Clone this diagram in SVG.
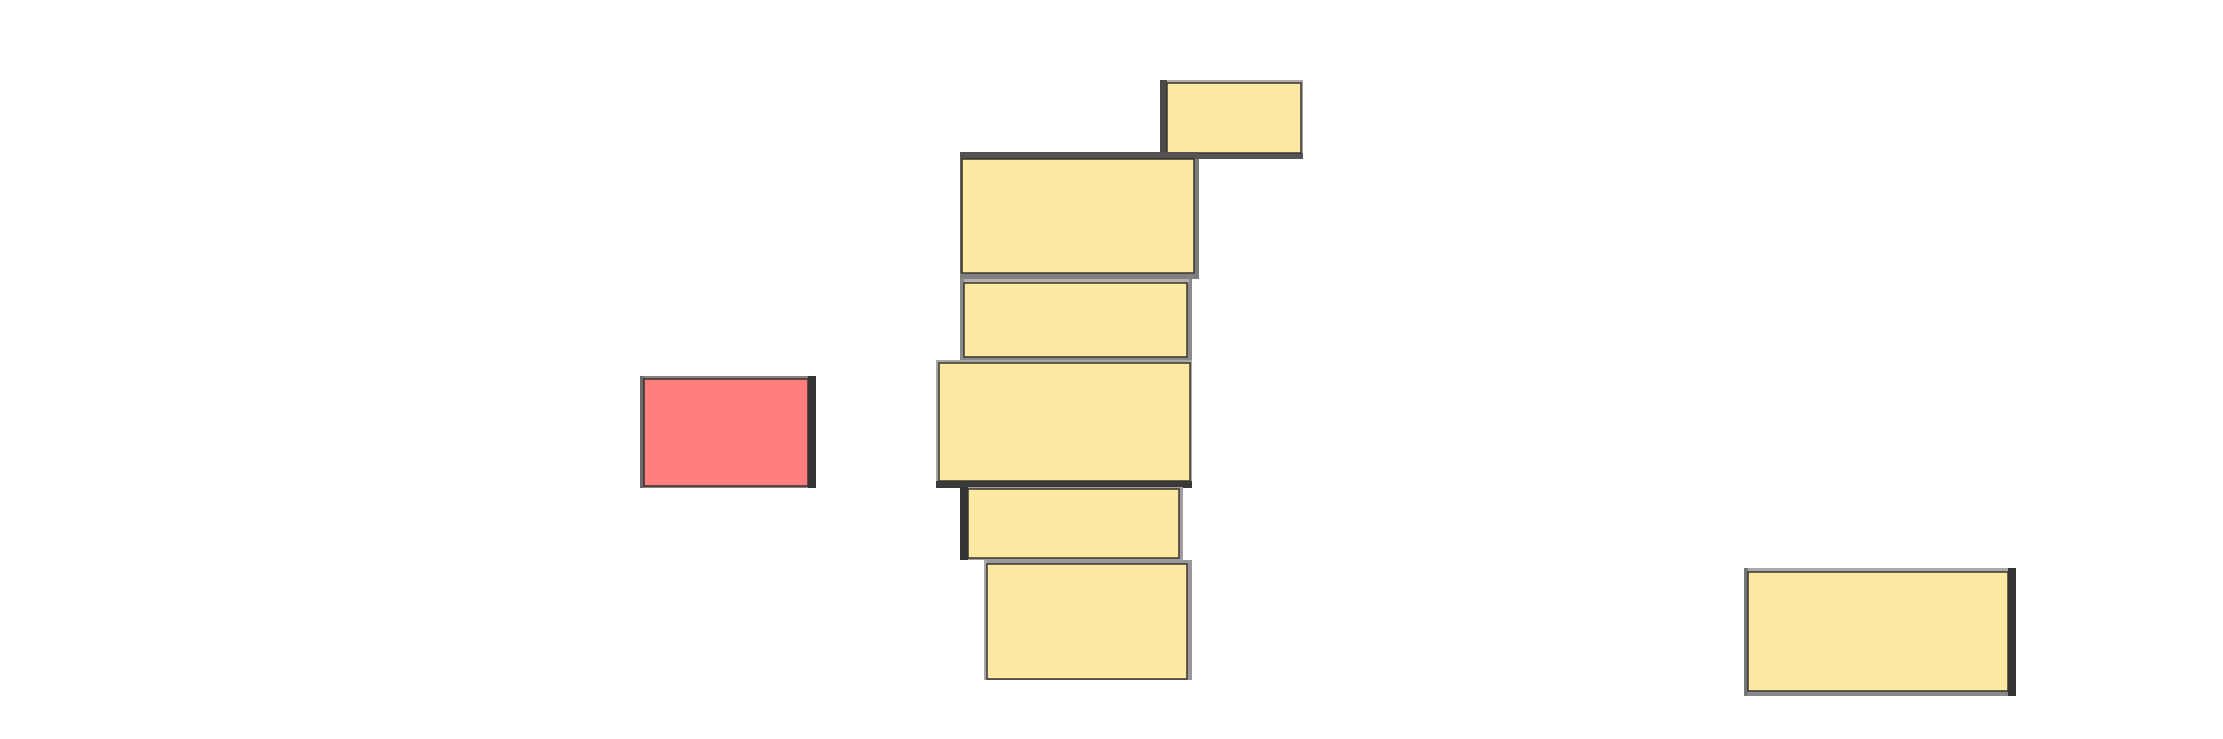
<svg xmlns="http://www.w3.org/2000/svg" width="2223" height="739" viewBox="0 0 2223 739">
<style>
.fill{fill:#fee9a2;stroke:#3a3530;stroke-width:1.5}
.red{fill:#ff7f7f;stroke:#3a3030;stroke-width:1.5}
</style>
<rect width="2223" height="739" fill="#ffffff"/>
<g id="connectors"></g>
<g id="node1">
<rect x="1160" y="80" width="143" height="3" fill="#b4aeac"/>
<rect x="1301" y="80" width="2" height="79" fill="#a8a4a8"/>
<rect x="1160" y="153" width="143" height="6" fill="#555"/>
<rect x="1160" y="80" width="7" height="79" fill="#4a4848"/>
<rect class="fill" x="1167" y="83" width="134" height="70"/>
</g>
<g id="node2">
<rect x="960" y="152" width="2" height="127" fill="#666"/>
<rect x="960" y="273" width="239" height="6" fill="#808080"/>
<rect x="1194" y="152" width="5" height="127" fill="#7c7c7c"/>
<rect x="960" y="152" width="239" height="7" fill="#555252"/>
<rect class="fill" x="962" y="159" width="232" height="114"/>
</g>
<g id="node3">
<rect x="960" y="279" width="232" height="82" fill="#8a8a8a"/>
<rect x="964" y="279" width="225" height="4" fill="#b5b0ae"/>
<rect class="fill" x="964" y="283" width="223" height="74"/>
</g>
<g id="node4">
<rect x="936" y="360" width="256" height="128" fill="#aaa8a6"/>
<rect x="936" y="481" width="256" height="7" fill="#3a3a3a"/>
<rect class="fill" x="939" y="363" width="251" height="118"/>
</g>
<g id="node5">
<rect x="960" y="487" width="223" height="73" fill="#a09ca0"/>
<rect x="960" y="487" width="8" height="73" fill="#333"/>
<rect class="fill" x="968" y="489" width="211" height="69"/>
</g>
<g id="node6">
<rect x="984" y="560" width="208" height="120" fill="#9a979a"/>
<rect x="984" y="560" width="3" height="120" fill="#aaa6aa"/>
<rect class="fill" x="987" y="564" width="200" height="115"/>
</g>
<g id="node7">
<rect x="1744" y="568" width="272" height="128" fill="#8a8888"/>
<rect x="1748" y="568" width="260" height="4" fill="#aaa"/>
<rect x="1744" y="568" width="4" height="128" fill="#777"/>
<rect x="2008" y="568" width="8" height="128" fill="#333"/>
<rect class="fill" x="1748" y="572" width="260" height="119"/>
</g>
<g id="node8">
<rect x="640" y="376" width="176" height="112" fill="#888282"/>
<rect x="640" y="376" width="4" height="112" fill="#6e6868"/>
<rect x="808" y="376" width="8" height="112" fill="#333"/>
<rect class="red" x="644" y="379" width="164" height="107"/>
</g>
</svg>
